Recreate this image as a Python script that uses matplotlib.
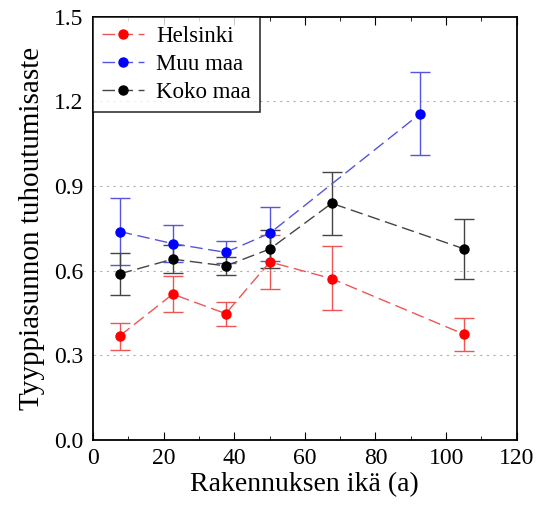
import numpy as np
import matplotlib
matplotlib.use("Agg")
import matplotlib.pyplot as plt
from matplotlib.ticker import MultipleLocator

plt.rcParams['font.family'] = ['Liberation Serif', 'DejaVu Serif']

# rakennuksen ikä (a) ja tuhoutumisaste, virherajat ylä/ala
hel_x = [7.6, 22.6, 37.6, 50.1, 67.6, 105.2]
hel_y = [0.369, 0.517, 0.448, 0.631, 0.572, 0.374]
hel_lo = [0.319, 0.454, 0.404, 0.534, 0.460, 0.317]
hel_hi = [0.416, 0.580, 0.490, 0.728, 0.688, 0.431]

muu_x = [7.6, 22.6, 37.6, 50.1, 92.6]
muu_y = [0.739, 0.696, 0.665, 0.733, 1.156]
muu_lo = [0.619, 0.632, 0.626, 0.636, 1.009]
muu_hi = [0.857, 0.761, 0.707, 0.827, 1.304]

koko_x = [7.6, 22.6, 37.6, 50.1, 67.6, 105.2]
koko_y = [0.589, 0.641, 0.617, 0.677, 0.839, 0.677]
koko_lo = [0.513, 0.593, 0.584, 0.609, 0.727, 0.572]
koko_hi = [0.662, 0.691, 0.650, 0.745, 0.949, 0.784]

series = [
    ("Helsinki", hel_x, hel_y, hel_lo, hel_hi, "#ff0000", "#ee5555"),
    ("Muu maa", muu_x, muu_y, muu_lo, muu_hi, "#0000ff", "#5555dd"),
    ("Koko maa", koko_x, koko_y, koko_lo, koko_hi, "#000000", "#444444"),
]

fig = plt.figure(figsize=(5.4, 5.12), dpi=100)
ax = fig.add_axes([0.172, 0.1406, 0.785, 0.8266])

for name, x, y, lo, hi, c, lc in series:
    y = np.array(y)
    err = [y - np.array(lo), np.array(hi) - y]
    ax.errorbar(x, y, yerr=err, fmt="none", ecolor=lc, elinewidth=1.0,
                capsize=7, capthick=1.0, zorder=2)
    ax.plot(x, y, color=lc, linestyle=(0, (9, 4)), linewidth=1.0,
            marker="o", markersize=6.5, markerfacecolor=c,
            markeredgecolor=c, label=name, zorder=3)

ax.set_xlim(0, 120)
ax.set_ylim(0, 1.5)
ax.xaxis.set_major_locator(MultipleLocator(20))
ax.xaxis.set_minor_locator(MultipleLocator(10))
ax.set_yticks([0.0, 0.3, 0.6, 0.9, 1.2, 1.5])
ax.set_yticklabels(["0.0", "0.3", "0.6", "0.9", "1.2", "1.5"])
ax.tick_params(axis="x", which="both", direction="in", top=True,
               labelsize=17, pad=6)
ax.tick_params(axis="x", which="major", length=6)
ax.tick_params(axis="x", which="minor", length=3)
ax.tick_params(axis="y", length=0, labelsize=17, pad=7)

for yv in [0.3, 0.6, 0.9, 1.2]:
    ax.axhline(yv, color="#b0b0b0", linestyle=(0, (2, 4)), linewidth=0.8,
               zorder=1)

for s in ax.spines.values():
    s.set_linewidth(1.3)

ax.set_xlabel("Rakennuksen ikä (a)", fontsize=20, labelpad=2)
ax.set_ylabel("Tyyppiasunnon tuhoutumisaste", fontsize=21, labelpad=6)

leg = ax.legend(loc="upper left", fontsize=16.5, frameon=True,
                fancybox=False, edgecolor="black", borderaxespad=0,
                handlelength=1.85, handletextpad=0.5, borderpad=0.4,
                labelspacing=0.3)
leg.get_frame().set_linewidth(1.2)

fig.savefig("out.png", dpi=100)
